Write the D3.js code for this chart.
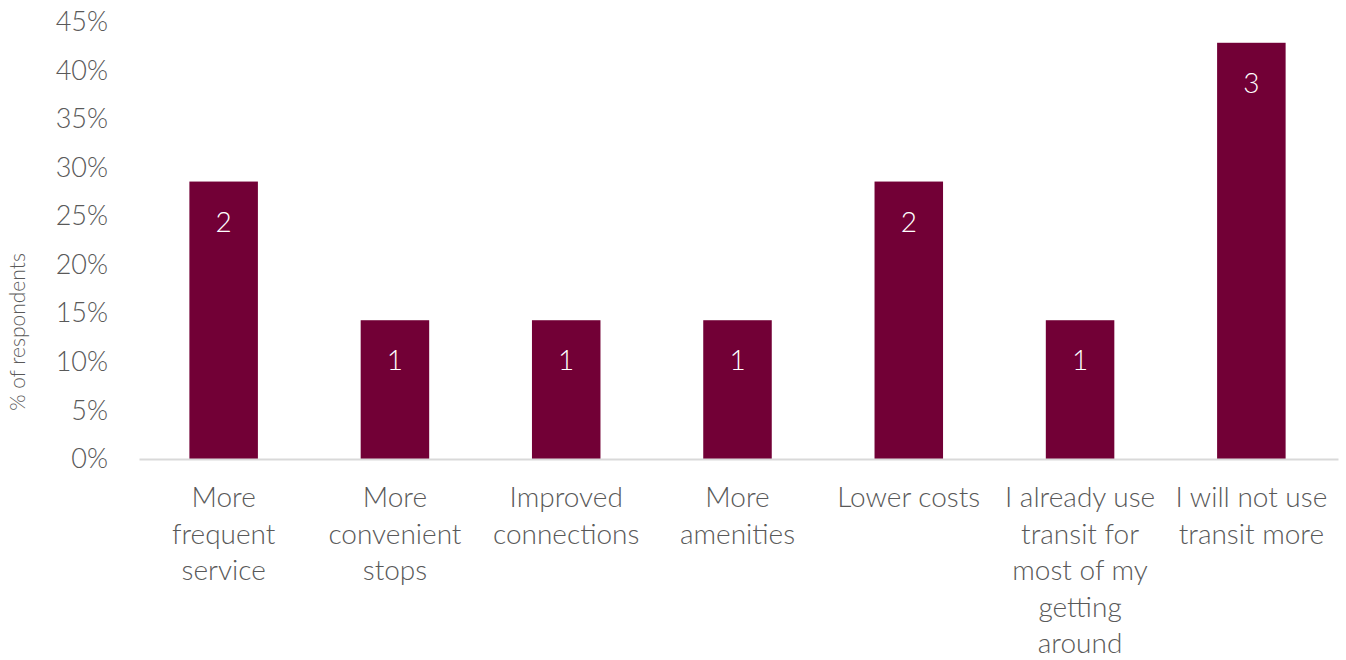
<!DOCTYPE html>
<html>
<head>
<meta charset="utf-8">
<script src="https://cdn.jsdelivr.net/npm/d3@7"></script>
<style>
  html, body { margin: 0; padding: 0; background: #fff; }
  svg { display: block; }
  text { font-family: Lato, "Open Sans", sans-serif; }
</style>
</head>
<body>
<svg id="chart" width="1346" height="660"></svg>
<script>
const categories = [
  "More|frequent|service",
  "More|convenient|stops",
  "Improved|connections",
  "More|amenities",
  "Lower costs",
  "I already use|transit for|most of my|getting|around",
  "I will not use|transit more"
];
const percentValues = [28.57, 14.29, 14.29, 14.29, 28.57, 14.29, 42.86];
const countLabels = ["2", "1", "1", "1", "2", "1", "3"];
const yTicks = [0, 5, 10, 15, 20, 25, 30, 35, 40, 45];
const yTitle = "% of respondents";

const svg = d3.select("#chart");
const margin = { left: 139, right: 8, top: 22, bottom: 201 };
const W = 1346, H = 660;
const plotW = W - margin.left - margin.right;
const plotH = H - margin.top - margin.bottom;

const g = svg.append("g").attr("transform", `translate(${margin.left},${margin.top})`);

const x = d3.scaleBand().domain(d3.range(categories.length)).range([0, plotW]).paddingInner(0.6).paddingOuter(0.3);
const y = d3.scaleLinear().domain([0, 45]).range([plotH, 0]);

// Y axis
const yAxis = g.append("g").call(d3.axisLeft(y).tickValues(yTicks).tickFormat(d => d + "%").tickSize(0).tickPadding(31));
yAxis.select(".domain").remove();
yAxis.selectAll("text").attr("fill", "#595959").style("font-size", "27px").style("font-weight", 300);

// Bars
g.selectAll("rect.bar").data(percentValues).join("rect")
  .attr("class", "bar")
  .attr("x", (d, i) => x(i) - 1)
  .attr("width", x.bandwidth())
  .attr("y", d => y(d))
  .attr("height", d => plotH - y(d))
  .attr("fill", "#720036");

// X axis
const xAxis = g.append("g").attr("transform", `translate(0,${plotH})`)
  .call(d3.axisBottom(x).tickSize(0).tickFormat(""));
xAxis.select(".domain").attr("stroke", "#d9d9d9").attr("stroke-width", 2);

// Category labels
categories.forEach((c, i) => {
  const lines = c.split("|");
  const t = g.append("text")
    .attr("text-anchor", "middle")
    .attr("fill", "#595959")
    .style("font-size", "28px")
    .style("font-weight", 300)
    .attr("transform", `translate(${x(i) + x.bandwidth() / 2 - 1},${plotH + 48})`);
  lines.forEach((l, k) => {
    t.append("tspan").attr("x", 0).attr("y", k * 36.5).text(l);
  });
});

// Data labels
g.selectAll("text.dl").data(percentValues).join("text")
  .attr("class", "dl")
  .attr("x", (d, i) => x(i) + x.bandwidth() / 2 - 1)
  .attr("y", d => y(d) + 50)
  .attr("text-anchor", "middle")
  .attr("fill", "#ffffff")
  .style("font-size", "28px")
  .style("font-weight", 300)
  .text((d, i) => countLabels[i]);

// Y title
svg.append("text")
  .attr("transform", `translate(25,332) rotate(-90)`)
  .attr("text-anchor", "middle")
  .attr("fill", "#595959")
  .style("font-size", "21px")
  .style("font-weight", 300)
  .text(yTitle);
</script>
</body>
</html>
